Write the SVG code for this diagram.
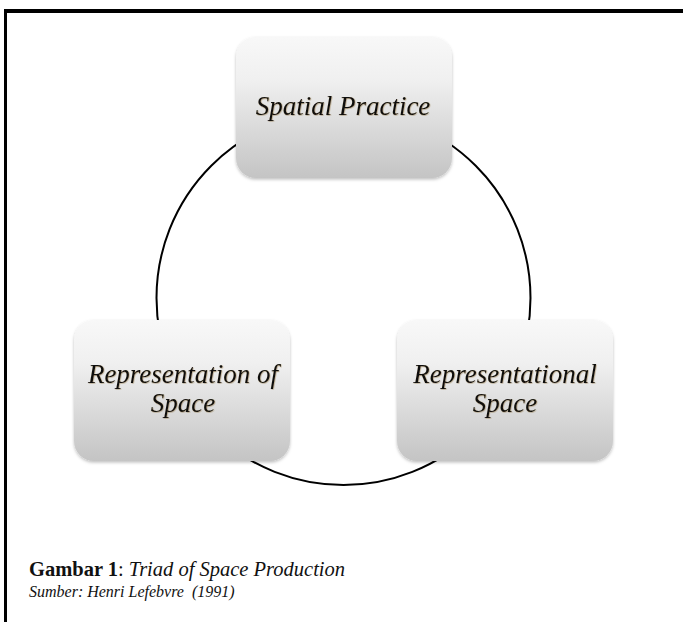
<svg xmlns="http://www.w3.org/2000/svg" width="683" height="622" viewBox="0 0 683 622">
<style>
.box{fill:url(#g);filter:url(#bs)}
.lbl{font-family:"Liberation Serif","Times New Roman",serif;font-style:italic;font-size:27px;fill:#111;text-anchor:middle;filter:url(#ts)}
.cap{font-family:"Liberation Serif","Times New Roman",serif;fill:#111}
</style>
<defs>
<linearGradient id="g" x1="0" y1="0" x2="0" y2="1">
<stop offset="0" stop-color="#f8f8f8"/>
<stop offset="0.3" stop-color="#f0f0f0"/>
<stop offset="1" stop-color="#c4c4c4"/>
</linearGradient>
<filter id="bs" x="-10%" y="-10%" width="120%" height="125%">
<feDropShadow dx="0" dy="1.5" stdDeviation="1.5" flood-color="#000" flood-opacity="0.25"/>
</filter>
<filter id="ts" x="-5%" y="-20%" width="110%" height="140%">
<feDropShadow dx="0.6" dy="0.6" stdDeviation="0.4" flood-color="#7a5a20" flood-opacity="0.5"/>
</filter>
</defs>
<rect x="4" y="9" width="679" height="4" fill="#000"/>
<rect x="4" y="9" width="3" height="613" fill="#000"/>
<g id="connectors">
<circle cx="343.5" cy="298" r="187" fill="none" stroke="#000" stroke-width="2"/>
</g>
<g id="spatial-practice">
<rect class="box" x="236" y="37" width="216" height="141" rx="20"/>
<text class="lbl" x="343" y="115">Spatial Practice</text>
</g>
<g id="representation-of-space">
<rect class="box" x="74" y="320" width="216" height="141" rx="20"/>
<text class="lbl" x="183" y="383">Representation of</text>
<text class="lbl" x="183" y="412">Space</text>
</g>
<g id="representational-space">
<rect class="box" x="397" y="320" width="216" height="141" rx="20"/>
<text class="lbl" x="505" y="383">Representational</text>
<text class="lbl" x="505" y="412">Space</text>
</g>
<g id="caption">
<text class="cap" x="29" y="576" font-size="20.5"><tspan font-weight="bold">Gambar 1</tspan>: <tspan font-style="italic">Triad of Space Production</tspan></text>
<text class="cap" x="29" y="597" font-size="16" font-style="italic" xml:space="preserve">Sumber: Henri Lefebvre  (1991)</text>
</g>
</svg>
